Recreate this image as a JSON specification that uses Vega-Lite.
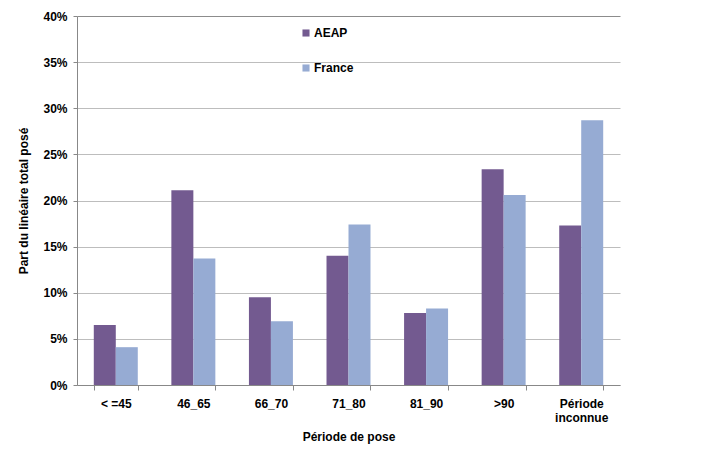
{
  "$schema": "https://vega.github.io/schema/vega-lite/v6.json",
  "width": 543,
  "height": 369,
  "autosize": "none",
  "padding": {"left": 77, "top": 16, "right": 84, "bottom": 67},
  "background": "white",
  "data": {
    "values": [
      {"periode": "< =45", "serie": "AEAP", "part": 0.065},
      {"periode": "< =45", "serie": "France", "part": 0.041},
      {"periode": "46_65", "serie": "AEAP", "part": 0.211},
      {"periode": "46_65", "serie": "France", "part": 0.137},
      {"periode": "66_70", "serie": "AEAP", "part": 0.095},
      {"periode": "66_70", "serie": "France", "part": 0.069},
      {"periode": "71_80", "serie": "AEAP", "part": 0.140},
      {"periode": "71_80", "serie": "France", "part": 0.174},
      {"periode": "81_90", "serie": "AEAP", "part": 0.078},
      {"periode": "81_90", "serie": "France", "part": 0.083},
      {"periode": ">90", "serie": "AEAP", "part": 0.234},
      {"periode": ">90", "serie": "France", "part": 0.206},
      {"periode": "Période inconnue", "serie": "AEAP", "part": 0.173},
      {"periode": "Période inconnue", "serie": "France", "part": 0.287}
    ]
  },
  "mark": {"type": "bar"},
  "encoding": {
    "x": {
      "field": "periode",
      "type": "nominal",
      "sort": null,
      "scale": {"paddingInner": 0.433, "paddingOuter": 0.2165},
      "axis": {
        "title": "Période de pose",
        "labelAngle": 0,
        "labelExpr": "datum.label == 'Période inconnue' ? ['Période', 'inconnue'] : datum.label",
        "labelPadding": 8,
        "titlePadding": 8,
        "tickBand": "extent",
        "tickSize": 5,
        "domainColor": "#888888",
        "tickColor": "#888888"
      }
    },
    "xOffset": {"field": "serie", "type": "nominal", "scale": {"paddingInner": 0, "paddingOuter": 0}},
    "y": {
      "field": "part",
      "type": "quantitative",
      "scale": {"domain": [0, 0.4], "nice": false},
      "axis": {
        "title": "Part du linéaire total posé",
        "format": ".0%",
        "values": [0, 0.05, 0.1, 0.15, 0.2, 0.25, 0.3, 0.35, 0.4],
        "labelOverlap": false,
        "tickSize": 4,
        "labelPadding": 6,
        "titlePadding": 12,
        "domainColor": "#888888",
        "tickColor": "#888888",
        "gridColor": {"condition": {"test": "datum.value >= 0.4", "value": "#8c8c8c"}, "value": "#bdbdbd"}
      }
    },
    "color": {
      "field": "serie",
      "type": "nominal",
      "scale": {"domain": ["AEAP", "France"], "range": ["#735a90", "#96abd3"]},
      "legend": {
        "title": null,
        "orient": "none",
        "legendX": 223,
        "legendY": 11,
        "symbolType": "square",
        "symbolSize": 50,
        "rowPadding": 23,
        "labelOffset": 2
      }
    }
  },
  "config": {
    "font": "Liberation Sans",
    "view": {"stroke": null},
    "axis": {
      "labelFont": "Liberation Sans",
      "labelFontSize": 12,
      "labelFontWeight": "bold",
      "labelColor": "#000000",
      "titleFont": "Liberation Sans",
      "titleFontSize": 12,
      "titleFontWeight": "bold",
      "titleColor": "#000000"
    },
    "legend": {
      "labelFont": "Liberation Sans",
      "labelFontSize": 12,
      "labelFontWeight": "bold",
      "labelColor": "#000000"
    }
  }
}
